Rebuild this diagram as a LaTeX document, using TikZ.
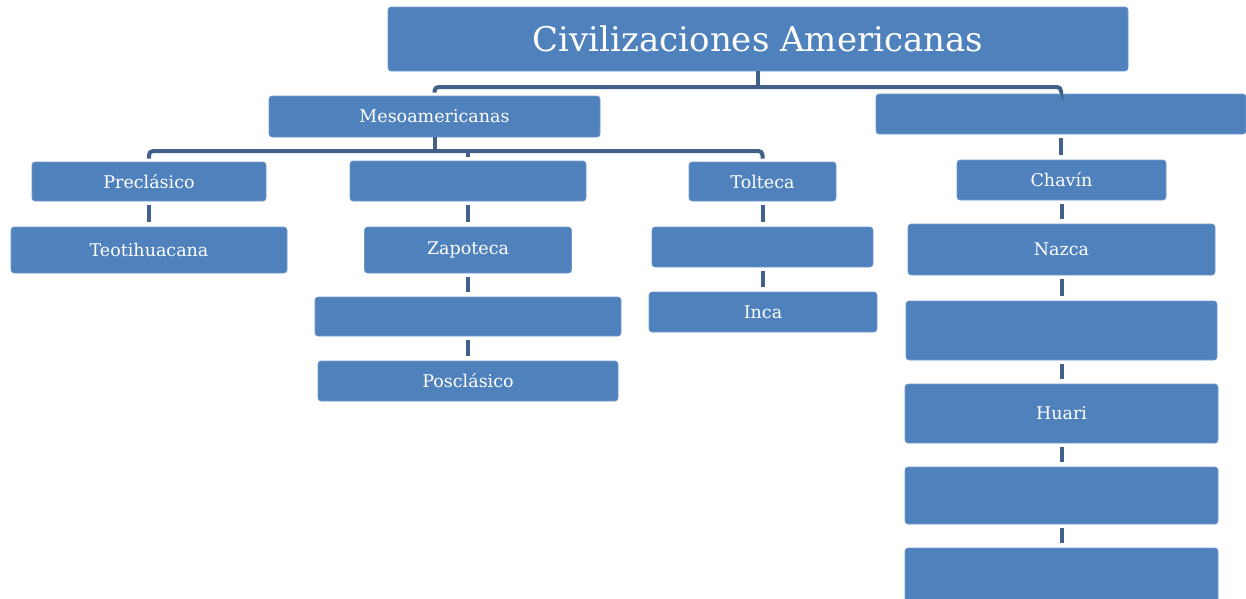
\documentclass[tikz,border=0pt]{standalone}
\usepackage{fontspec}
\setmainfont{DejaVu Serif}
\definecolor{cajaazul}{HTML}{4F81BD}
\definecolor{lineaazul}{HTML}{41618B}
\tikzset{
  caja/.style={fill=cajaazul, draw=cajaazul!80!white, line width=0.6pt, rounded corners=3pt,
    text=white, inner sep=0pt, font=\fontsize{17.5}{19}\selectfont},
  conector/.style={draw=lineaazul, line width=4pt},
}
\begin{document}
\begin{tikzpicture}[x=1pt,y=-1pt]
\useasboundingbox (0,0) rectangle (1246,598);

%% titulo
\node[caja, minimum width=740pt, minimum height=64pt, font=\fontsize{34}{40}\selectfont] (titulo) at (758,39) {Civilizaciones Americanas};

%% cajas: nombre/x/y/ancho/alto/texto
\foreach \nom/\cx/\cy/\an/\al/\txt in {
    meso/434.5/116.5/331/41/Mesoamericanas,
    andina/1061/114/370/40/{},
    prec/149/181.5/234/39/Preclásico,
    teoti/149/250/276/46/Teotihuacana,
    meso2/468/181/236/40/{},
    zapo/468/250/207/46/Zapoteca,
    meso3/468/316.5/306/39/{},
    poscl/468/381/300/40/Posclásico,
    tolt/762.5/181.5/147/39/Tolteca,
    tolt2/762.5/247/221/40/{},
    inca/763/312/228/40/Inca,
    chavin/1061.5/180/209/40/Chavín,
    nazca/1061.5/249.5/307/51/Nazca,
    and3/1061.5/330.5/311/59/{},
    huari/1061.5/413.5/313/59/Huari,
    and5/1061.5/495.5/313/57/{},
    and6/1061.5/578/313/60/{}}{
  \node[caja, minimum width=\an pt, minimum height=\al pt] (\nom) at (\cx,\cy) {\txt};
}

%% barras horizontales
\coordinate (barra1) at (0,87);
\coordinate (barra2) at (0,151);
\draw[conector] (titulo.south) -- (titulo.south |- barra1);
\draw[conector, rounded corners=4pt] ([yshift=3pt]meso.north) |- (barra1 -| andina.north) -- ([yshift=3pt]andina.north);
\draw[conector] (meso.south) -- (meso.south |- barra2);
\draw[conector, rounded corners=4pt] ([yshift=3pt]prec.north) |- (barra2 -| tolt.north) -- ([yshift=3pt]tolt.north);
\draw[conector] (barra2 -| meso2.north) -- ([yshift=4pt]meso2.north);

%% uniones verticales
\foreach \a/\b in {prec/teoti, meso2/zapo, zapo/meso3, meso3/poscl, tolt/tolt2, tolt2/inca,
    andina/chavin, chavin/nazca, nazca/and3, and3/huari, huari/and5, and5/and6}{
  \draw[conector, shorten <=4pt, shorten >=5pt] (\a.south) -- (\a.south |- \b.north);
}
\end{tikzpicture}
\end{document}
